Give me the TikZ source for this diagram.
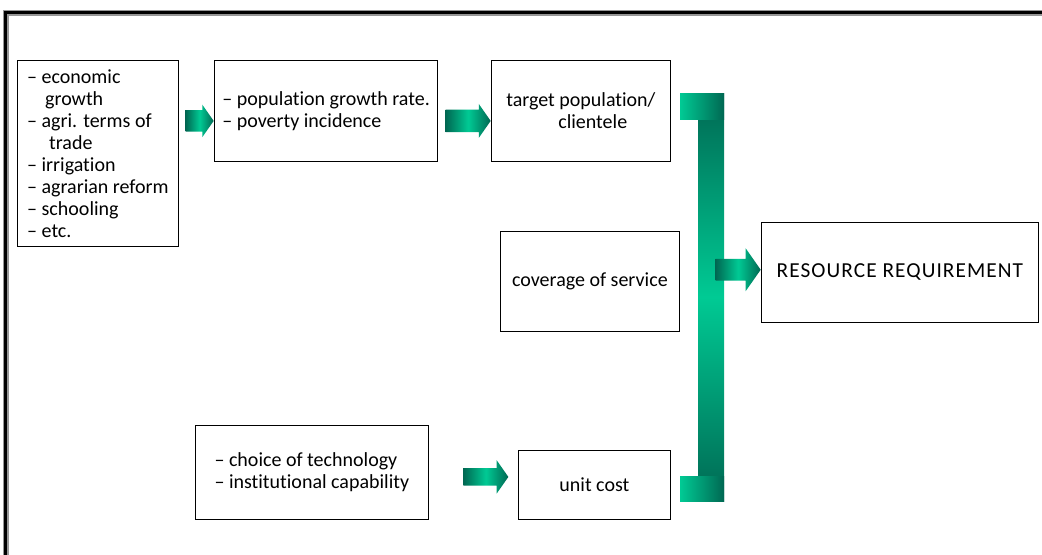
\documentclass[tikz,border=0pt]{standalone}
\usepackage{fontspec}
\setmainfont{Carlito}[Ligatures=NoCommon]
\usetikzlibrary{shapes.arrows,positioning}

\definecolor{framegray}{RGB}{150,150,150}
\definecolor{tealbright}{RGB}{0,202,148}
\definecolor{tealdark}{RGB}{0,104,82}

\tikzset{
  box/.style={draw=black, line width=0.6pt, fill=white, inner xsep=6pt,
    inner ysep=0pt, anchor=north west, align=left,
    font=\fontsize{15}{16.5}\selectfont},
  garrow/.style={single arrow, single arrow tip angle=110,
    single arrow head indent=0pt, inner xsep=0pt, anchor=tip,
    left color=tealdark, right color=tealdark, middle color=tealbright},
}

\begin{document}
\begin{tikzpicture}[x=0.75pt,y=-0.75pt]
\useasboundingbox (0,0) rectangle (1042,554);
\clip (0,0) rectangle (1042,554);
\fill[white] (0,0) rectangle (1042,554);
% outer frame, runs off the page on the right and at the bottom
\draw[framegray, line width=4.5pt] (5.5,12.5) rectangle (1100,620);
\draw[black, line width=2.3pt] (5.5,12.5) rectangle (1100,620);

% boxes
\node[box, minimum width=120.75pt, minimum height=139.5pt] (drivers) at (17,60)
  {– economic\\ \hspace*{0.9em}growth\\ – agri. terms of\\ \hspace*{1.1em}trade\\
   – irrigation\\ – agrarian reform\\ – schooling\\ – etc.};
\node[box, minimum width=167.25pt, minimum height=75.75pt] (popgrowth) at (214,60)
  {– population growth rate.\\ – poverty incidence};
\node[box, minimum width=134.25pt, minimum height=75.75pt] (target) at (491,60)
  {target population/\\ \hspace*{2.6em}clientele};
\node[box, align=center, minimum width=134.25pt, minimum height=75pt] (coverage) at (500,231)
  {coverage of service};
\node[box, align=center, minimum width=207.75pt, minimum height=75pt,
  font=\fontsize{16}{18}\selectfont\addfontfeature{LetterSpace=5}] (resource) at (761,222)
  {RESOURCE REQUIREMENT};
\node[box, minimum width=174.75pt, minimum height=70.5pt] (technology) at (195,425)
  {– choice of technology\\ – institutional capability};
\node[box, align=center, minimum width=114pt, minimum height=51.75pt] (unitcost) at (518,450)
  {unit cost};

% block arrows (shaft = 2 x inner ysep)
\node[garrow, minimum height=21pt, inner ysep=7.9pt, single arrow head extend=4.1pt]
  (arr1) at ([yshift=-7.5pt]popgrowth.west) {};
\node[garrow, minimum height=33.75pt, inner ysep=8.2pt, single arrow head extend=4.3pt]
  (arr2) at ([yshift=-7.5pt]target.west) {};
\node[garrow, minimum height=33.75pt, inner ysep=6.4pt, single arrow head extend=6pt]
  (arr3) at ([xshift=-7pt,yshift=6pt]unitcost.west) {};

% bracket collecting target and unit cost
\shade[top color=tealdark, bottom color=tealdark, middle color=tealbright]
  (698,93) rectangle (724,501);
\shade[left color=tealbright, right color=tealdark] (680,93) rectangle (724,119);
\shade[left color=tealbright, right color=tealdark] (680,476) rectangle (724,501);

\node[garrow, minimum height=33.75pt, inner ysep=7.9pt, single arrow head extend=7.9pt]
  (arr4) at ([yshift=2pt]resource.west) {};
\end{tikzpicture}
\end{document}
